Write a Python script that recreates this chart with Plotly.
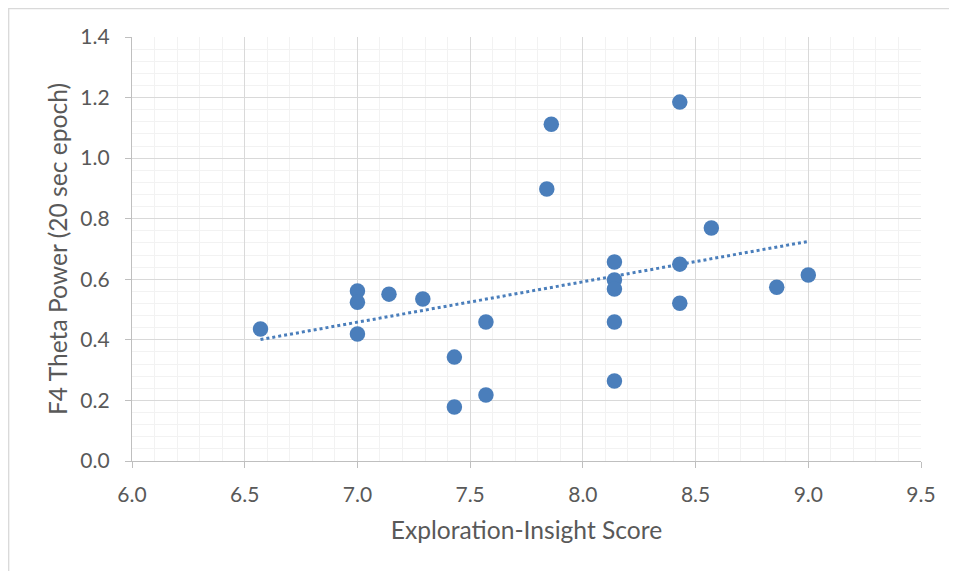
import numpy as np
import plotly.graph_objects as go

# Exploration-Insight Score (x) and F4 Theta Power (y)
score = [6.57, 7.00, 7.00, 7.00, 7.14, 7.29, 7.43, 7.43, 7.57, 7.57,
         7.84, 7.86, 8.14, 8.14, 8.14, 8.14, 8.14, 8.43, 8.43, 8.43,
         8.57, 8.86, 9.00]
theta = [0.436, 0.561, 0.524, 0.419, 0.551, 0.535, 0.343, 0.178, 0.459, 0.218,
         0.898, 1.112, 0.657, 0.598, 0.568, 0.459, 0.264, 1.185, 0.650, 0.521,
         0.769, 0.574, 0.614]

x_title = "Exploration-Insight Score"
y_title = "F4 Theta Power (20 sec epoch)"

blue = "#4A7EBB"
text_grey = "#595959"
font_family = "Lato, 'Open Sans', sans-serif"

# Linear trendline (least squares) over the data range
slope, intercept = np.polyfit(score, theta, 1)
tx = [min(score), max(score)]
ty = [slope * v + intercept for v in tx]

fig = go.Figure()
fig.add_trace(go.Scatter(
    x=tx, y=ty, mode="lines",
    line=dict(color=blue, width=3, dash="dot"),
    showlegend=False, hoverinfo="skip",
))
fig.add_trace(go.Scatter(
    x=score, y=theta, mode="markers",
    marker=dict(color=blue, size=15.5, line=dict(width=0)),
    showlegend=False,
))

axis_common = dict(
    showline=True, linecolor="#BFBFBF", linewidth=1.3,
    gridcolor="#D9D9D9", gridwidth=1,
    ticks="outside", ticklen=6, tickcolor="#BFBFBF", tickwidth=1.3,
    tickfont=dict(family=font_family, size=21, color=text_grey),
    zeroline=False, tickformat=".1f",
)

fig.update_xaxes(
    range=[6.0, 9.5], dtick=0.5, tick0=6.0,
    minor=dict(dtick=0.1, showgrid=True, gridcolor="#F2F2F2", gridwidth=1, ticks=""),
    title=dict(text=x_title, font=dict(family=font_family, size=24.6, color=text_grey), standoff=16),
    ticklabelstandoff=9,
    **axis_common,
)
fig.update_yaxes(
    range=[0.0, 1.4], dtick=0.2, tick0=0.0,
    minor=dict(dtick=0.04, showgrid=True, gridcolor="#F2F2F2", gridwidth=1, ticks=""),
    title=dict(text=y_title, font=dict(family=font_family, size=24.6, color=text_grey), standoff=5),
    ticklabelstandoff=11,
    **axis_common,
)

# page offsets: the figure sits 8px in from the page corner
PL, PT = 8, 8
W, H = 957 - PL, 571 - PT
ML, MR, MT, MB = 132 - PL, 36, 37 - PT, 110
pw, ph = W - ML - MR, H - MT - MB

# chart-area border (top/left edges visible)
fig.add_shape(type="rect", xref="paper", yref="paper",
              x0=(0.7 - ML) / pw, x1=1.5, y0=-1.0, y1=(ph + MT - 0.7) / ph,
              line=dict(color="#D9D9D9", width=1.3), fillcolor="rgba(0,0,0,0)",
              layer="below")

fig.update_layout(
    width=W, height=H,
    margin=dict(l=ML, r=MR, t=MT, b=MB),
    paper_bgcolor="white", plot_bgcolor="white",
    showlegend=False,
)

fig.write_html("out.html")
